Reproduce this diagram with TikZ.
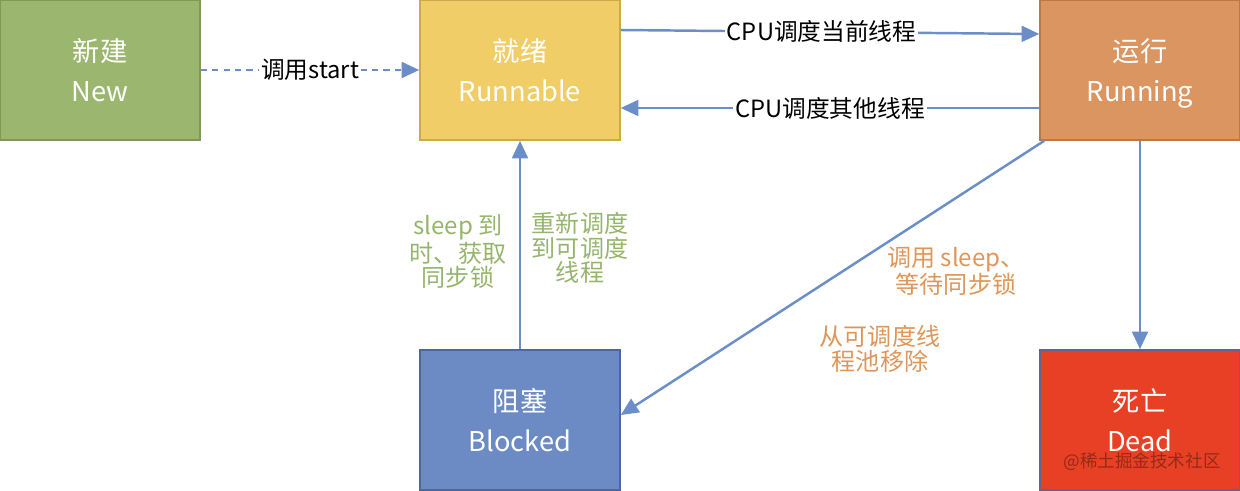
\documentclass[tikz,border=0pt]{standalone}
\usepackage{fontspec}
\setmainfont{Noto Sans CJK SC}
\usepackage{tikz}
\usetikzlibrary{arrows.meta, positioning, calc}
\usepackage{xcolor}
\definecolor{newgreen}{RGB}{155, 183, 111}
\definecolor{newgreenline}{RGB}{128, 152, 88}
\definecolor{runyellow}{RGB}{240, 205, 102}
\definecolor{runyellowline}{RGB}{204, 168, 78}
\definecolor{runorange}{RGB}{218, 149, 97}
\definecolor{runorangeline}{RGB}{186, 120, 70}
\definecolor{blockblue}{RGB}{108, 139, 197}
\definecolor{blockblueline}{RGB}{76, 104, 158}
\definecolor{deadred}{RGB}{232, 64, 37}
\definecolor{deadredline}{RGB}{104, 96, 146}
\definecolor{flowblue}{RGB}{108, 142, 200}
\definecolor{notegreen}{RGB}{150, 181, 108}
\definecolor{noteorange}{RGB}{222, 150, 90}

\begin{document}
\begin{tikzpicture}[x=0.02cm, y=-0.02cm,
  statebox/.style={draw, line width=0.9pt, minimum width=4cm, minimum height=2.8cm,
    text=white, font=\fontsize{15.5}{22.7}\selectfont, align=center, text depth=0pt},
  flow/.style={-{Triangle[length=10pt, width=9pt]}, line width=1.4pt, color=flowblue},
  onlabel/.style={fill=white, text=black, inner sep=1pt, font=\fontsize{13.5}{16}\selectfont},
  note/.style={font=\fontsize{13.7}{14}\selectfont, align=center}]
  \useasboundingbox (0,0) rectangle (1240,490);
  % states
  \node[statebox, fill=newgreen, draw=newgreenline] (new) at (100,70) {新建\\New};
  \node[statebox, fill=runyellow, draw=runyellowline] (runnable) at (520,70) {就绪\\Runnable};
  \node[statebox, fill=runorange, draw=runorangeline] (running) at (1140,70) {运行\\Running};
  \node[statebox, fill=blockblue, draw=blockblueline] (blocked) at (520,420) {阻塞\\Blocked};
  \node[statebox, fill=deadred, draw=deadredline] (dead) at (1140,420) {死亡\\Dead};
  % transitions
  \draw[flow, dash pattern=on 3.5pt off 3pt] (new) -- (runnable)
    node[onlabel, midway] {调用start};
  \draw[flow] ([yshift=0.8cm]runnable.east) -- ([yshift=0.72cm]running.west)
    node[onlabel, pos=0.48] {CPU调度当前线程};
  \draw[flow] ([yshift=-0.76cm]running.west) -- ([yshift=-0.76cm]runnable.east)
    node[onlabel, pos=0.5] {CPU调度其他线程};
  \draw[flow] (blocked) -- (runnable);
  \draw[flow] ([xshift=0.1cm]running.south west) -- ([yshift=0.1cm]blocked.east);
  \draw[flow] (running) -- (dead);
  % notes
  \node[note, text=notegreen] (wake) at (458,252) {sleep 到\\时、获取\\同步锁};
  \node[note, text=notegreen] (resched) at (580,248) {重新调度\\到可调度\\线程};
  \node[note, text=noteorange] (sleepcall) at (956,271) {调用 sleep、\\等待同步锁};
  \node[note, text=noteorange] (removed) at (880,349) {从可调度线\\程池移除};
  \node[font=\fontsize{10}{12}\selectfont, text=black, opacity=0.35] (mark) at (1142,462) {@稀土掘金技术社区};
\end{tikzpicture}
\end{document}
